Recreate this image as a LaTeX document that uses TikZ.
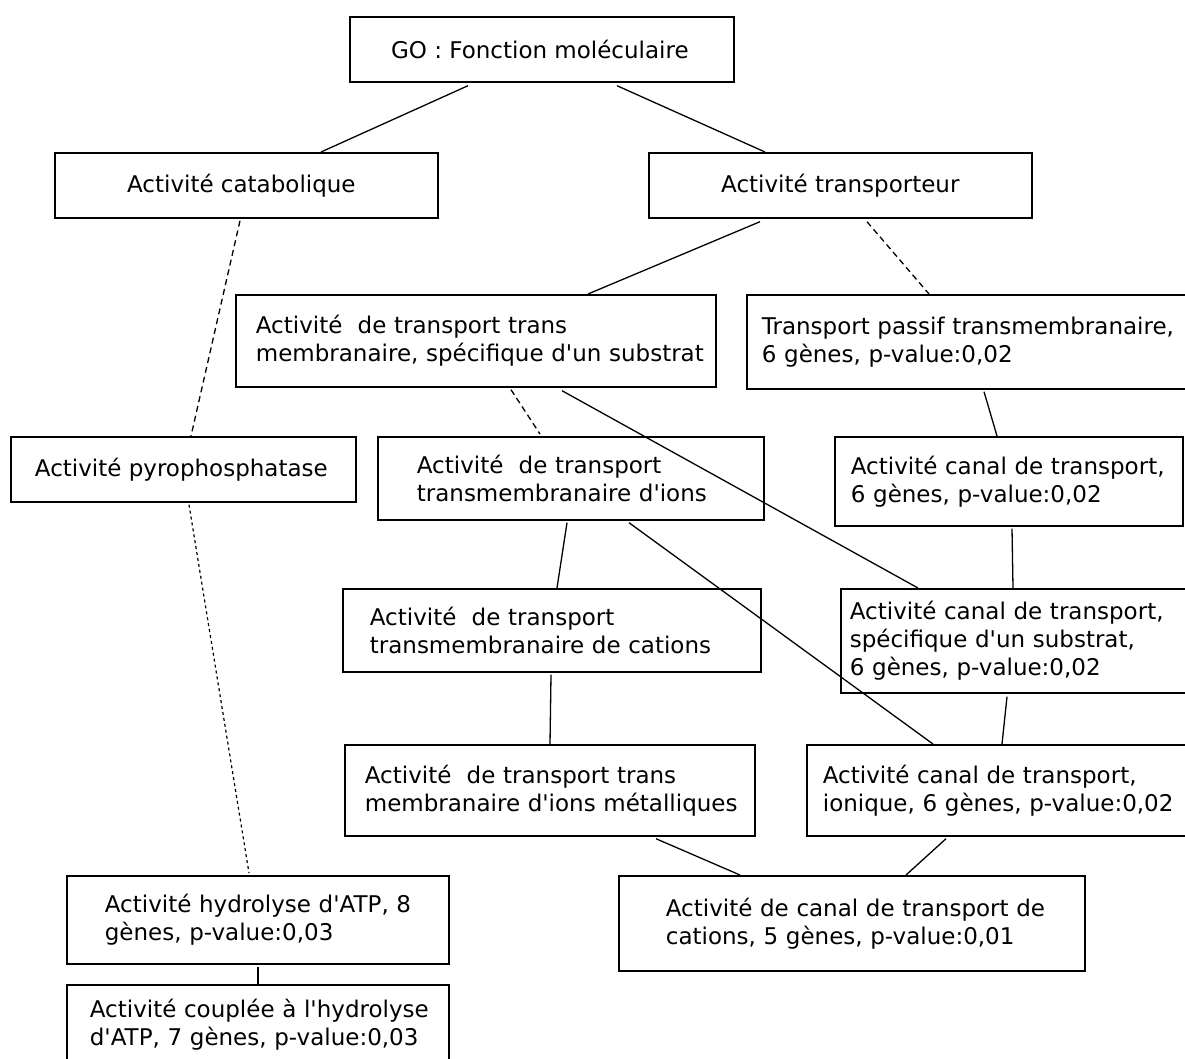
\documentclass[tikz,border=0pt]{standalone}
\usepackage{fontspec}
\setmainfont{DejaVu Sans}
\usetikzlibrary{calc}
\newcommand{\apo}{\textquotesingle}
\newcommand{\lne}[1]{\mbox{#1}}
\begin{document}
\begin{tikzpicture}[x=1pt,y=-1pt,
  box/.style={draw, line width=1.7pt, inner ysep=0pt, anchor=north west,
    font=\fontsize{23}{28}\selectfont},
  cbox/.style={box, inner xsep=0pt, align=center},
  lbox/.style={box, align=left},
  link/.style={line width=1.3pt},
  dlink/.style={line width=1.3pt, dash pattern=on 6pt off 4pt},
  flink/.style={line width=1.2pt, dash pattern=on 3pt off 3pt}]
\clip (0,0) rectangle (1185,1058);
\fill[white] (0,0) rectangle (1185,1058);

\node[cbox, minimum width=384pt, minimum height=65pt] (go) at (349,16) {GO : Fonction moléculaire\hspace*{4pt}};
\node[cbox, minimum width=383pt, minimum height=65pt] (cata) at (54,152) {Activité catabolique\hspace*{10pt}};
\node[cbox, minimum width=383pt, minimum height=65pt] (transp) at (648,152) {Activité transporteur};
\node[lbox, inner xsep=20pt, text width=440pt, minimum height=92pt] (spec) at (235,294) {\lne{Activité\ \ de transport trans}\\\lne{membranaire, spécifique d\apo un substrat}};
\node[lbox, inner xsep=15pt, text width=440pt, minimum height=94pt] (passif) at (746,294) {\lne{Transport passif transmembranaire,}\\\lne{6 gènes, p-value:0,02}};
\node[cbox, minimum width=345pt, minimum height=65pt] (pyro) at (10,436) {Activité pyrophosphatase\hspace*{4pt}};
\node[lbox, inner xsep=39pt, text width=308pt, minimum height=83pt] (ions) at (377,436) {\lne{Activité\ \ de transport}\\\lne{transmembranaire d\apo ions}};
\node[lbox, inner xsep=16pt, text width=316pt, minimum height=89pt] (canal) at (834,436) {\lne{Activité canal de transport,}\\\lne{6 gènes, p-value:0,02}};
\node[lbox, inner xsep=27pt, text width=364pt, minimum height=83pt] (cations) at (342,588) {\lne{Activité\ \ de transport}\\\lne{transmembranaire de cations}};
\node[lbox, inner xsep=9pt, text width=337pt, minimum height=104pt] (cspec) at (840,588) {\lne{Activité canal de transport,}\\\lne{spécifique d\apo un substrat,}\\\lne{6 gènes, p-value:0,02}};
\node[lbox, inner xsep=20pt, text width=370pt, minimum height=91pt] (metal) at (344,744) {\lne{Activité\ \ de transport trans}\\\lne{membranaire d\apo ions métalliques}};
\node[lbox, inner xsep=16pt, text width=358pt, minimum height=91pt] (cion) at (806,744) {\lne{Activité canal de transport,}\\\lne{ionique, 6 gènes, p-value:0,02}};
\node[lbox, inner xsep=38pt, text width=306pt, minimum height=88pt] (atp) at (66,875) {\lne{Activité hydrolyse d\apo ATP, 8}\\\lne{gènes, p-value:0,03}};
\node[lbox, inner xsep=47pt, text width=372pt, minimum height=95pt] (ccat) at (618,875) {\lne{Activité de canal de transport de}\\\lne{cations, 5 gènes, p-value:0,01}};
\node[lbox, inner xsep=23pt, text width=336pt, minimum height=80pt] (coup) at (66,984) {\lne{Activité couplée à l\apo hydrolyse}\\\lne{d\apo ATP, 7 gènes, p-value:0,03}};

\draw[link] ($(go.south west)+(119,3)$) -- ($(cata.north west)+(267,0)$);
\draw[link] ($(go.south west)+(268,3)$) -- ($(transp.north west)+(117,0)$);
\draw[dlink] ($(cata.south west)+(186,2)$) -- ($(pyro.north west)+(181,0)$);
\draw[flink] ($(pyro.south west)+(179,2)$) -- ($(atp.north west)+(183,-2)$);
\draw[link] ($(transp.south west)+(112,3)$) -- ($(spec.north west)+(353,0)$);
\draw[dlink] ($(transp.south west)+(219,3)$) -- ($(passif.north west)+(183,0)$);
\draw[dlink] ($(spec.south west)+(276,2)$) -- ($(ions.north west)+(163,-2)$);
\draw[link] ($(spec.south west)+(327,3)$) -- ($(cspec.north west)+(78,0)$);
\draw[link] ($(passif.south west)+(238,2)$) -- ($(canal.north west)+(163,0)$);
\draw[link] ($(canal.south west)+(178,2)$) -- ($(cspec.north west)+(173,0)$);
\draw[link] ($(ions.south west)+(190,2)$) -- ($(cations.north west)+(215,0)$);
\draw[link] ($(ions.south west)+(252,2)$) -- ($(cion.north west)+(127,0)$);
\draw[link] ($(cations.south west)+(209,2)$) -- ($(metal.north west)+(206,0)$);
\draw[link] ($(cspec.south west)+(167,3)$) -- ($(cion.north west)+(196,0)$);
\draw[link] ($(metal.south west)+(312,2)$) -- ($(ccat.north west)+(122,0)$);
\draw[link] ($(cion.south west)+(140,2)$) -- ($(ccat.north west)+(288,0)$);
\draw[link] ($(atp.south west)+(192,2)$) -- ($(coup.north west)+(192,0)$);
\end{tikzpicture}
\end{document}
